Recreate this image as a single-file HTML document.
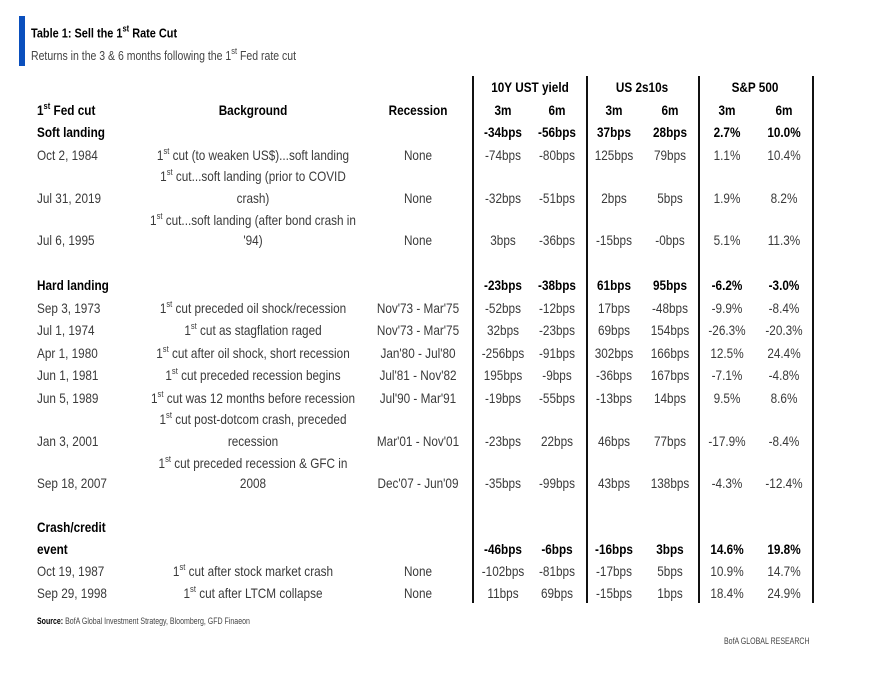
<!DOCTYPE html>
<html><head><meta charset="utf-8"><style>
body{margin:0;width:869px;height:676px;background:#fff;position:relative;overflow:hidden;font-family:"Liberation Sans",sans-serif;font-size:14px;color:#3a3a3a}
div{position:absolute;white-space:nowrap}
.c{transform:translate(-50%,-50%) scaleX(.84);text-align:center}
.l{transform:translateY(-50%) scaleX(.84);transform-origin:left center}
.b{font-weight:bold;color:#000}
sup{font-size:9px;vertical-align:6px;line-height:0}
.v{width:2px;background:#111;top:76px;height:527px}
</style></head><body>
<div style="left:19px;top:16px;width:6px;height:50px;background:#0a4fbd"></div>
<div class="l b" style="left:31px;top:33px;font-size:13px">Table 1: Sell the 1<sup>st</sup> Rate Cut</div>
<div class="l" style="left:31px;top:56px;font-size:12.5px;color:#444">Returns in the 3 &amp; 6 months following the 1<sup>st</sup> Fed rate cut</div>

<div class="v" style="left:472px"></div>
<div class="v" style="left:586px"></div>
<div class="v" style="left:698px"></div>
<div class="v" style="left:812px"></div>

<div class="c b" style="left:530px;top:87px">10Y UST yield</div>
<div class="c b" style="left:642px;top:87px">US 2s10s</div>
<div class="c b" style="left:755px;top:87px">S&amp;P 500</div>

<div class="l b" style="left:37px;top:110px">1<sup>st</sup> Fed cut</div>
<div class="c b" style="left:253px;top:110px">Background</div>
<div class="c b" style="left:418px;top:110px">Recession</div>
<div class="c b" style="left:503px;top:110px">3m</div><div class="c b" style="left:557px;top:110px">6m</div>
<div class="c b" style="left:614px;top:110px">3m</div><div class="c b" style="left:670px;top:110px">6m</div>
<div class="c b" style="left:727px;top:110px">3m</div><div class="c b" style="left:784px;top:110px">6m</div>

<div class="l b" style="left:37px;top:132px">Soft landing</div>
<div class="c b" style="left:503px;top:132px">-34bps</div><div class="c b" style="left:557px;top:132px">-56bps</div>
<div class="c b" style="left:614px;top:132px">37bps</div><div class="c b" style="left:670px;top:132px">28bps</div>
<div class="c b" style="left:727px;top:132px">2.7%</div><div class="c b" style="left:784px;top:132px">10.0%</div>

<div class="l" style="left:37px;top:155px">Oct 2, 1984</div>
<div class="c" style="left:253px;top:155px">1<sup>st</sup> cut (to weaken US$)...soft landing</div>
<div class="c" style="left:418px;top:155px">None</div>
<div class="c" style="left:503px;top:155px">-74bps</div><div class="c" style="left:557px;top:155px">-80bps</div>
<div class="c" style="left:614px;top:155px">125bps</div><div class="c" style="left:670px;top:155px">79bps</div>
<div class="c" style="left:727px;top:155px">1.1%</div><div class="c" style="left:784px;top:155px">10.4%</div>

<div class="c" style="left:253px;top:176px">1<sup>st</sup> cut...soft landing (prior to COVID</div>
<div class="l" style="left:37px;top:198px">Jul 31, 2019</div>
<div class="c" style="left:253px;top:198px">crash)</div>
<div class="c" style="left:418px;top:198px">None</div>
<div class="c" style="left:503px;top:198px">-32bps</div><div class="c" style="left:557px;top:198px">-51bps</div>
<div class="c" style="left:614px;top:198px">2bps</div><div class="c" style="left:670px;top:198px">5bps</div>
<div class="c" style="left:727px;top:198px">1.9%</div><div class="c" style="left:784px;top:198px">8.2%</div>

<div class="c" style="left:253px;top:220px">1<sup>st</sup> cut...soft landing (after bond crash in</div>
<div class="l" style="left:37px;top:240px">Jul 6, 1995</div>
<div class="c" style="left:253px;top:240px">'94)</div>
<div class="c" style="left:418px;top:240px">None</div>
<div class="c" style="left:503px;top:240px">3bps</div><div class="c" style="left:557px;top:240px">-36bps</div>
<div class="c" style="left:614px;top:240px">-15bps</div><div class="c" style="left:670px;top:240px">-0bps</div>
<div class="c" style="left:727px;top:240px">5.1%</div><div class="c" style="left:784px;top:240px">11.3%</div>

<div class="l b" style="left:37px;top:285px">Hard landing</div>
<div class="c b" style="left:503px;top:285px">-23bps</div><div class="c b" style="left:557px;top:285px">-38bps</div>
<div class="c b" style="left:614px;top:285px">61bps</div><div class="c b" style="left:670px;top:285px">95bps</div>
<div class="c b" style="left:727px;top:285px">-6.2%</div><div class="c b" style="left:784px;top:285px">-3.0%</div>

<div class="l" style="left:37px;top:308px">Sep 3, 1973</div>
<div class="c" style="left:253px;top:308px">1<sup>st</sup> cut preceded oil shock/recession</div>
<div class="c" style="left:418px;top:308px">Nov'73 - Mar'75</div>
<div class="c" style="left:503px;top:308px">-52bps</div><div class="c" style="left:557px;top:308px">-12bps</div>
<div class="c" style="left:614px;top:308px">17bps</div><div class="c" style="left:670px;top:308px">-48bps</div>
<div class="c" style="left:727px;top:308px">-9.9%</div><div class="c" style="left:784px;top:308px">-8.4%</div>

<div class="l" style="left:37px;top:330px">Jul 1, 1974</div>
<div class="c" style="left:253px;top:330px">1<sup>st</sup> cut as stagflation raged</div>
<div class="c" style="left:418px;top:330px">Nov'73 - Mar'75</div>
<div class="c" style="left:503px;top:330px">32bps</div><div class="c" style="left:557px;top:330px">-23bps</div>
<div class="c" style="left:614px;top:330px">69bps</div><div class="c" style="left:670px;top:330px">154bps</div>
<div class="c" style="left:727px;top:330px">-26.3%</div><div class="c" style="left:784px;top:330px">-20.3%</div>

<div class="l" style="left:37px;top:353px">Apr 1, 1980</div>
<div class="c" style="left:253px;top:353px">1<sup>st</sup> cut after oil shock, short recession</div>
<div class="c" style="left:418px;top:353px">Jan'80 - Jul'80</div>
<div class="c" style="left:503px;top:353px">-256bps</div><div class="c" style="left:557px;top:353px">-91bps</div>
<div class="c" style="left:614px;top:353px">302bps</div><div class="c" style="left:670px;top:353px">166bps</div>
<div class="c" style="left:727px;top:353px">12.5%</div><div class="c" style="left:784px;top:353px">24.4%</div>

<div class="l" style="left:37px;top:375px">Jun 1, 1981</div>
<div class="c" style="left:253px;top:375px">1<sup>st</sup> cut preceded recession begins</div>
<div class="c" style="left:418px;top:375px">Jul'81 - Nov'82</div>
<div class="c" style="left:503px;top:375px">195bps</div><div class="c" style="left:557px;top:375px">-9bps</div>
<div class="c" style="left:614px;top:375px">-36bps</div><div class="c" style="left:670px;top:375px">167bps</div>
<div class="c" style="left:727px;top:375px">-7.1%</div><div class="c" style="left:784px;top:375px">-4.8%</div>

<div class="l" style="left:37px;top:398px">Jun 5, 1989</div>
<div class="c" style="left:253px;top:398px">1<sup>st</sup> cut was 12 months before recession</div>
<div class="c" style="left:418px;top:398px">Jul'90 - Mar'91</div>
<div class="c" style="left:503px;top:398px">-19bps</div><div class="c" style="left:557px;top:398px">-55bps</div>
<div class="c" style="left:614px;top:398px">-13bps</div><div class="c" style="left:670px;top:398px">14bps</div>
<div class="c" style="left:727px;top:398px">9.5%</div><div class="c" style="left:784px;top:398px">8.6%</div>

<div class="c" style="left:253px;top:419px">1<sup>st</sup> cut post-dotcom crash, preceded</div>
<div class="l" style="left:37px;top:441px">Jan 3, 2001</div>
<div class="c" style="left:253px;top:441px">recession</div>
<div class="c" style="left:418px;top:441px">Mar'01 - Nov'01</div>
<div class="c" style="left:503px;top:441px">-23bps</div><div class="c" style="left:557px;top:441px">22bps</div>
<div class="c" style="left:614px;top:441px">46bps</div><div class="c" style="left:670px;top:441px">77bps</div>
<div class="c" style="left:727px;top:441px">-17.9%</div><div class="c" style="left:784px;top:441px">-8.4%</div>

<div class="c" style="left:253px;top:463px">1<sup>st</sup> cut preceded recession &amp; GFC in</div>
<div class="l" style="left:37px;top:483px">Sep 18, 2007</div>
<div class="c" style="left:253px;top:483px">2008</div>
<div class="c" style="left:418px;top:483px">Dec'07 - Jun'09</div>
<div class="c" style="left:503px;top:483px">-35bps</div><div class="c" style="left:557px;top:483px">-99bps</div>
<div class="c" style="left:614px;top:483px">43bps</div><div class="c" style="left:670px;top:483px">138bps</div>
<div class="c" style="left:727px;top:483px">-4.3%</div><div class="c" style="left:784px;top:483px">-12.4%</div>

<div class="l b" style="left:37px;top:527px">Crash/credit</div>
<div class="l b" style="left:37px;top:549px">event</div>
<div class="c b" style="left:503px;top:549px">-46bps</div><div class="c b" style="left:557px;top:549px">-6bps</div>
<div class="c b" style="left:614px;top:549px">-16bps</div><div class="c b" style="left:670px;top:549px">3bps</div>
<div class="c b" style="left:727px;top:549px">14.6%</div><div class="c b" style="left:784px;top:549px">19.8%</div>

<div class="l" style="left:37px;top:571px">Oct 19, 1987</div>
<div class="c" style="left:253px;top:571px">1<sup>st</sup> cut after stock market crash</div>
<div class="c" style="left:418px;top:571px">None</div>
<div class="c" style="left:503px;top:571px">-102bps</div><div class="c" style="left:557px;top:571px">-81bps</div>
<div class="c" style="left:614px;top:571px">-17bps</div><div class="c" style="left:670px;top:571px">5bps</div>
<div class="c" style="left:727px;top:571px">10.9%</div><div class="c" style="left:784px;top:571px">14.7%</div>

<div class="l" style="left:37px;top:593px">Sep 29, 1998</div>
<div class="c" style="left:253px;top:593px">1<sup>st</sup> cut after LTCM collapse</div>
<div class="c" style="left:418px;top:593px">None</div>
<div class="c" style="left:503px;top:593px">11bps</div><div class="c" style="left:557px;top:593px">69bps</div>
<div class="c" style="left:614px;top:593px">-15bps</div><div class="c" style="left:670px;top:593px">1bps</div>
<div class="c" style="left:727px;top:593px">18.4%</div><div class="c" style="left:784px;top:593px">24.9%</div>

<div class="l" style="left:37px;top:621px;font-size:9px;color:#444;transform:translateY(-50%) scaleX(.78)"><b style="color:#000">Source:</b> BofA Global Investment Strategy, Bloomberg, GFD Finaeon</div>
<div class="l" style="left:724px;top:641px;font-size:9px;color:#444;transform:translateY(-50%) scaleX(.78)">BofA GLOBAL RESEARCH</div>
</body></html>
